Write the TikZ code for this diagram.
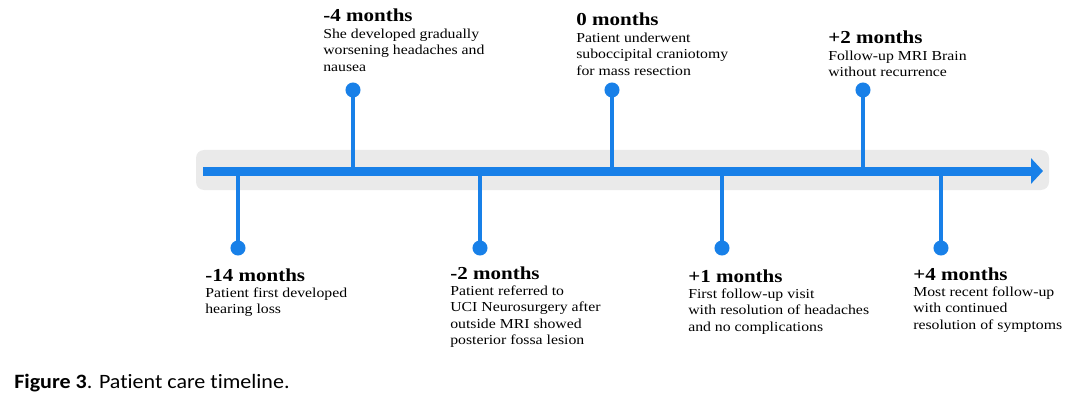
\documentclass[tikz,border=0pt]{standalone}
\usepackage{fontspec}
\newfontfamily\tlfont{Liberation Serif}[FakeStretch=1.15]
\newfontfamily\capfont{Carlito}[FakeStretch=1.08, Ligatures=NoCommon]
\usetikzlibrary{arrows.meta,positioning}
\definecolor{tlblue}{RGB}{24,128,232}
\definecolor{tlgrey}{RGB}{234,234,234}

\begin{document}
\begin{tikzpicture}[x=0.025cm, y=-0.025cm,
    dot/.style={circle, fill=tlblue, inner sep=0pt, minimum size=10.7pt},
    stem/.style={draw=tlblue, line width=3.2pt},
    when/.style={anchor=base west, inner sep=0pt, font=\tlfont\fontsize{13}{15}\selectfont\bfseries},
    what/.style={inner sep=0pt, align=left, font=\tlfont\fontsize{9.75}{11.7}\selectfont},
    >={Triangle[length=8.5pt, width=17.8pt]}]
    \useasboundingbox (0,0) rectangle (1080,407);
    \fill[tlgrey, rounded corners=5.7pt] (196,150) rectangle (1049,190);
    \coordinate (start) at (203,171);
    \coordinate (end) at (1043,171);
    \draw[tlblue, line width=6.4pt, ->] (start) -- (end);

    % points on the axis
    \coordinate (x-m14) at (238,171);
    \coordinate (x-m4) at (353,171);
    \coordinate (x-m2) at (480,171);
    \coordinate (x-0) at (612,171);
    \coordinate (x-p1) at (722,171);
    \coordinate (x-p2) at (863,171);
    \coordinate (x-p4) at (941,171);

    % pins
    \node[dot] (d-m14) at (238,248) {};
    \node[dot] (d-m4) at (353,90) {};
    \node[dot] (d-m2) at (480,248) {};
    \node[dot] (d-0) at (612,90) {};
    \node[dot] (d-p1) at (722,248) {};
    \node[dot] (d-p2) at (863,90) {};
    \node[dot] (d-p4) at (941,248) {};
    \draw[stem] (x-m14) -- (d-m14.center);
    \draw[stem] (x-m4) -- (d-m4.center);
    \draw[stem] (x-m2) -- (d-m2.center);
    \draw[stem] (x-0) -- (d-0.center);
    \draw[stem] (x-p1) -- (d-p1.center);
    \draw[stem] (x-p2) -- (d-p2.center);
    \draw[stem] (x-p4) -- (d-p4.center);

    % above the axis
    \node[when] (t-m4) at (323,21.7) {-4 months};
    \node[what, below right=4.7pt and 0pt of t-m4.base west] (b-m4) {She developed gradually\\worsening headaches and\\nausea};
    \node[when] (t-0) at (576,26) {0 months};
    \node[what, below right=4.7pt and 0pt of t-0.base west] (b-0) {Patient underwent\\suboccipital craniotomy\\for mass resection};
    \node[when] (t-p2) at (828,44) {+2 months};
    \node[what, below right=4.7pt and 0pt of t-p2.base west] (b-p2) {Follow-up MRI Brain\\without recurrence};

    % below the axis
    \node[when] (t-m14) at (205,281) {-14 months};
    \node[what, below right=4.7pt and 0pt of t-m14.base west] (b-m14) {Patient first developed\\hearing loss};
    \node[when] (t-m2) at (450,279) {-2 months};
    \node[what, below right=4.7pt and 0pt of t-m2.base west] (b-m2) {Patient referred to\\UCI Neurosurgery after\\outside MRI showed\\posterior fossa lesion};
    \node[when] (t-p1) at (688,282) {+1 months};
    \node[what, below right=4.7pt and 0pt of t-p1.base west] (b-p1) {First follow-up visit\\with resolution of headaches\\and no complications};
    \node[when] (t-p4) at (913,280) {+4 months};
    \node[what, below right=4.7pt and 0pt of t-p4.base west] (b-p4) {Most recent follow-up\\with continued\\resolution of symptoms};

    \node[anchor=base west, inner sep=0pt, font=\capfont\fontsize{14.5}{17}\selectfont] (caption) at (14,388) {\textbf{Figure 3}. Patient care timeline.};
\end{tikzpicture}
\end{document}
